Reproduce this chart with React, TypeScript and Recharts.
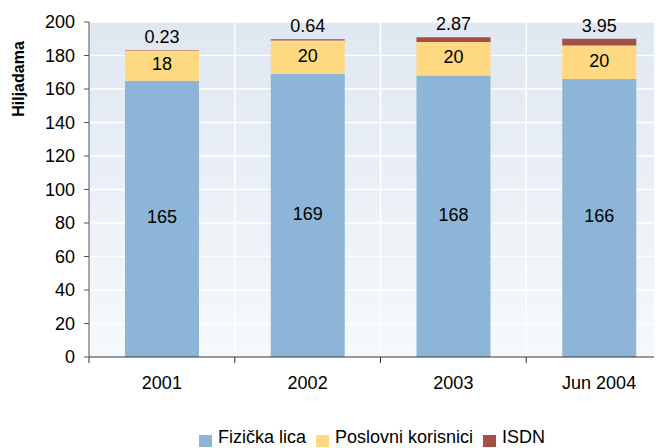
import { BarChart, Bar, XAxis, YAxis, CartesianGrid, Legend, LabelList } from 'recharts';

const categories = ['2001', '2002', '2003', 'Jun 2004'];
const fizickaLica = [165, 169, 168, 166];
const poslovniKorisnici = [18, 20, 20, 20];
const isdn = [0.23, 0.64, 2.87, 3.95];
const yTicks = [0, 20, 40, 60, 80, 100, 120, 140, 160, 180, 200];

const data = categories.map((name, i) => ({
  name,
  fizicka: fizickaLica[i],
  poslovni: poslovniKorisnici[i],
  isdn: isdn[i],
}));

const FONT = '"Liberation Sans", Arial, sans-serif';

const legendItems = [
  { label: 'Fizička lica', color: '#8cb5d7' },
  { label: 'Poslovni korisnici', color: '#ffd882' },
  { label: 'ISDN', color: '#a34e47' },
];

function XTick(props: any) {
  const { x, y, payload } = props;
  const half = payload.offset ?? 0;
  const axisY = y - 8;
  return (
    <g>
      <line x1={x - half} x2={x - half} y1={axisY} y2={axisY + 6} stroke="#333" />
      <text x={x} y={y + 24} textAnchor="middle" fontSize={18} fill="#000" fontFamily={FONT}>
        {payload.value}
      </text>
    </g>
  );
}

function YTitle(props: any) {
  const vb = props.viewBox || {};
  const cx = (vb.x ?? 0) + 10;
  const cy = (vb.y ?? 0) + 57;
  return (
    <text
      x={cx}
      y={cy}
      transform={`rotate(-90 ${cx} ${cy})`}
      textAnchor="middle"
      dominantBaseline="central"
      fontSize={16}
      fontWeight="bold"
      fill="#000"
      fontFamily={FONT}
    >
      Hiljadama
    </text>
  );
}

function LegendContent() {
  return (
    <div
      style={{
        display: 'flex',
        justifyContent: 'flex-start',
        alignItems: 'flex-start',
        height: 20,
        fontFamily: FONT,
        fontSize: 18,
        color: '#000',
        paddingLeft: 191,
      }}
    >
      {legendItems.map((it) => (
        <div key={it.label} style={{ display: 'flex', alignItems: 'flex-start', marginRight: 10 }}>
          <span
            style={{ display: 'inline-block', width: 13, height: 12, background: it.color, marginTop: 8, marginRight: 6 }}
          />
          <span style={{ lineHeight: '20px', whiteSpace: 'nowrap' }}>{it.label}</span>
        </div>
      ))}
    </div>
  );
}

export default function App() {
  return (
    <div style={{ width: 654, height: 440, overflow: 'hidden' }}>
      <BarChart
        width={664}
        height={440}
        data={data}
        margin={{ top: 14, right: 0, bottom: 1, left: 0 }}
        barSize={74}
      >
        <defs>
          <linearGradient id="bgGrad" x1="0" y1="0" x2="0" y2="1">
            <stop offset="0%" stopColor="#dfe7f1" />
            <stop offset="100%" stopColor="#f6f9fc" />
          </linearGradient>
        </defs>
        <CartesianGrid
          fill="url(#bgGrad)"
          stroke="#ffffff"
          strokeWidth={1.5}
          verticalCoordinatesGenerator={({ offset }: any) =>
            [1, 2, 3].map((i) => offset.left + (i * offset.width) / categories.length)
          }
        />
        <XAxis
          dataKey="name"
          height={70}
          axisLine={{ stroke: '#333' }}
          tickLine={false}
          tickSize={6}
          tick={<XTick />}
          interval={0}
        />
        <YAxis
          width={81}
          domain={[0, 200]}
          ticks={yTicks}
          interval={0}
          axisLine={{ stroke: '#555' }}
          tickLine={{ stroke: '#555' }}
          tickSize={5}
          tickMargin={9}
          tick={{ fontSize: 18, fill: '#000', fontFamily: FONT }}
          label={<YTitle />}
        />
        <Legend verticalAlign="bottom" wrapperStyle={{ bottom: 1 }} content={<LegendContent />} />
        <Bar dataKey="fizicka" stackId="a" fill="#8cb5d7" name="Fizička lica" isAnimationActive={false}>
          <LabelList dataKey="fizicka" position="center" dy={-2} fontSize={18} fill="#000" fontFamily={FONT} />
        </Bar>
        <Bar dataKey="poslovni" stackId="a" fill="#ffd882" name="Poslovni korisnici" isAnimationActive={false}>
          <LabelList dataKey="poslovni" position="center" dy={-2} fontSize={18} fill="#000" fontFamily={FONT} />
        </Bar>
        <Bar dataKey="isdn" stackId="a" fill="#a34e47" name="ISDN" isAnimationActive={false}>
          <LabelList dataKey="isdn" position="top" offset={7} fontSize={18} fill="#000" fontFamily={FONT} />
        </Bar>
      </BarChart>
    </div>
  );
}
